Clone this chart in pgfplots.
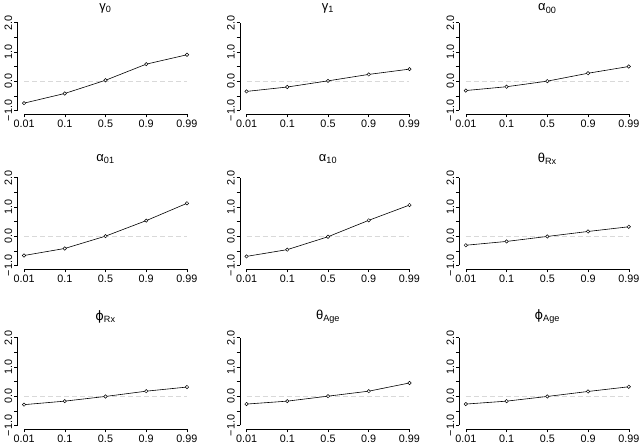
\documentclass[border=0pt]{standalone}
\usepackage{pgfplots}
\pgfplotsset{compat=1.18}
\usepackage{fontspec}
\setmainfont{Liberation Sans}
\newfontfamily\dejavu{DejaVu Sans}

\pgfplotsset{
  rpanel/.style={
    scale only axis, width=176pt, height=95pt,
    xmin=0.84, xmax=5.16, ymin=-1.12, ymax=2.12,
    axis line style={draw=none},
    xtick={1,2,3,4,5}, xticklabels={0.01,0.1,0.5,0.9,0.99},
    ytick={-1,-0.5,0,0.5,1,1.5,2}, yticklabels={−1.0,,0.0,,1.0,,2.0},
    xtick pos=bottom, ytick pos=left,
    tick align=outside, major tick length=3.5pt,
    every tick/.style={black, line width=0.5pt},
    tick label style={font=\fontsize{10.8}{12}\selectfont},
    yticklabel style={rotate=90, anchor=south, inner sep=1.5pt},
    xticklabel style={inner sep=2pt},
    anchor=south west,
    clip=false,
    title style={at={(0.5,1)}, anchor=center, font=\fontsize{13}{14}\selectfont},
  },
  row1/.style={title style={yshift=4.5pt}},
  row2/.style={title style={yshift=9pt}},
  row3/.style={title style={yshift=11.5pt}},
  zline/.style={gray!30, line width=0.7pt, dash pattern=on 5pt off 3pt},
  dline/.style={black, line width=0.6pt, mark=*, mark size=1.7pt, mark options={solid, fill=white, draw=black, line width=0.5pt}},
}
\newcommand{\raxes}{%
  \draw[line width=0.5pt] (axis cs:1,-1.12) -- (axis cs:5,-1.12);
  \draw[line width=0.5pt] (axis cs:0.84,-1) -- (axis cs:0.84,2);
}

\begin{document}
\begin{tikzpicture}
\path[use as bounding box] (0pt,0pt) rectangle (640pt,446pt);

% Row 1
\begin{axis}[rpanel,row1, at={(17.5pt,332pt)}, title={γ\textsubscript{0}}]
\raxes
\addplot[zline] coordinates {(1,0) (5,0)};
\addplot[dline] coordinates {(1,-0.75) (2,-0.42) (3,0.03) (4,0.58) (5,0.90)};
\end{axis}
\begin{axis}[rpanel,row1, at={(240pt,332pt)}, title={γ\textsubscript{1}}]
\raxes
\addplot[zline] coordinates {(1,0) (5,0)};
\addplot[dline] coordinates {(1,-0.35) (2,-0.20) (3,0.01) (4,0.23) (5,0.41)};
\end{axis}
\begin{axis}[rpanel,row1, at={(459.3pt,332pt)}, title={α\textsubscript{00}}]
\raxes
\addplot[zline] coordinates {(1,0) (5,0)};
\addplot[dline] coordinates {(1,-0.32) (2,-0.19) (3,0.00) (4,0.27) (5,0.50)};
\end{axis}

% Row 2
\begin{axis}[rpanel,row2, at={(17.5pt,177pt)}, title={α\textsubscript{01}}]
\raxes
\addplot[zline] coordinates {(1,0) (5,0)};
\addplot[dline] coordinates {(1,-0.66) (2,-0.42) (3,0.00) (4,0.53) (5,1.12)};
\end{axis}
\begin{axis}[rpanel,row2, at={(240pt,177pt)}, title={α\textsubscript{10}}]
\raxes
\addplot[zline] coordinates {(1,0) (5,0)};
\addplot[dline] coordinates {(1,-0.69) (2,-0.46) (3,-0.02) (4,0.54) (5,1.06)};
\end{axis}
\begin{axis}[rpanel,row2, at={(459.3pt,177pt)}, title={θ\textsubscript{Rx}}]
\raxes
\addplot[zline] coordinates {(1,0) (5,0)};
\addplot[dline] coordinates {(1,-0.31) (2,-0.18) (3,-0.01) (4,0.16) (5,0.32)};
\end{axis}

% Row 3
\begin{axis}[rpanel,row3, at={(17.5pt,17pt)}, title={{\dejavu ϕ}\textsubscript{Rx}}]
\raxes
\addplot[zline] coordinates {(1,0) (5,0)};
\addplot[dline] coordinates {(1,-0.29) (2,-0.17) (3,-0.01) (4,0.17) (5,0.31)};
\end{axis}
\begin{axis}[rpanel,row3, at={(240pt,17pt)}, title={θ\textsubscript{Age}}]
\raxes
\addplot[zline] coordinates {(1,0) (5,0)};
\addplot[dline] coordinates {(1,-0.27) (2,-0.17) (3,0.00) (4,0.17) (5,0.45)};
\end{axis}
\begin{axis}[rpanel,row3, at={(459.3pt,17pt)}, title={{\dejavu ϕ}\textsubscript{Age}}]
\raxes
\addplot[zline] coordinates {(1,0) (5,0)};
\addplot[dline] coordinates {(1,-0.27) (2,-0.17) (3,-0.01) (4,0.16) (5,0.32)};
\end{axis}
\end{tikzpicture}
\end{document}
